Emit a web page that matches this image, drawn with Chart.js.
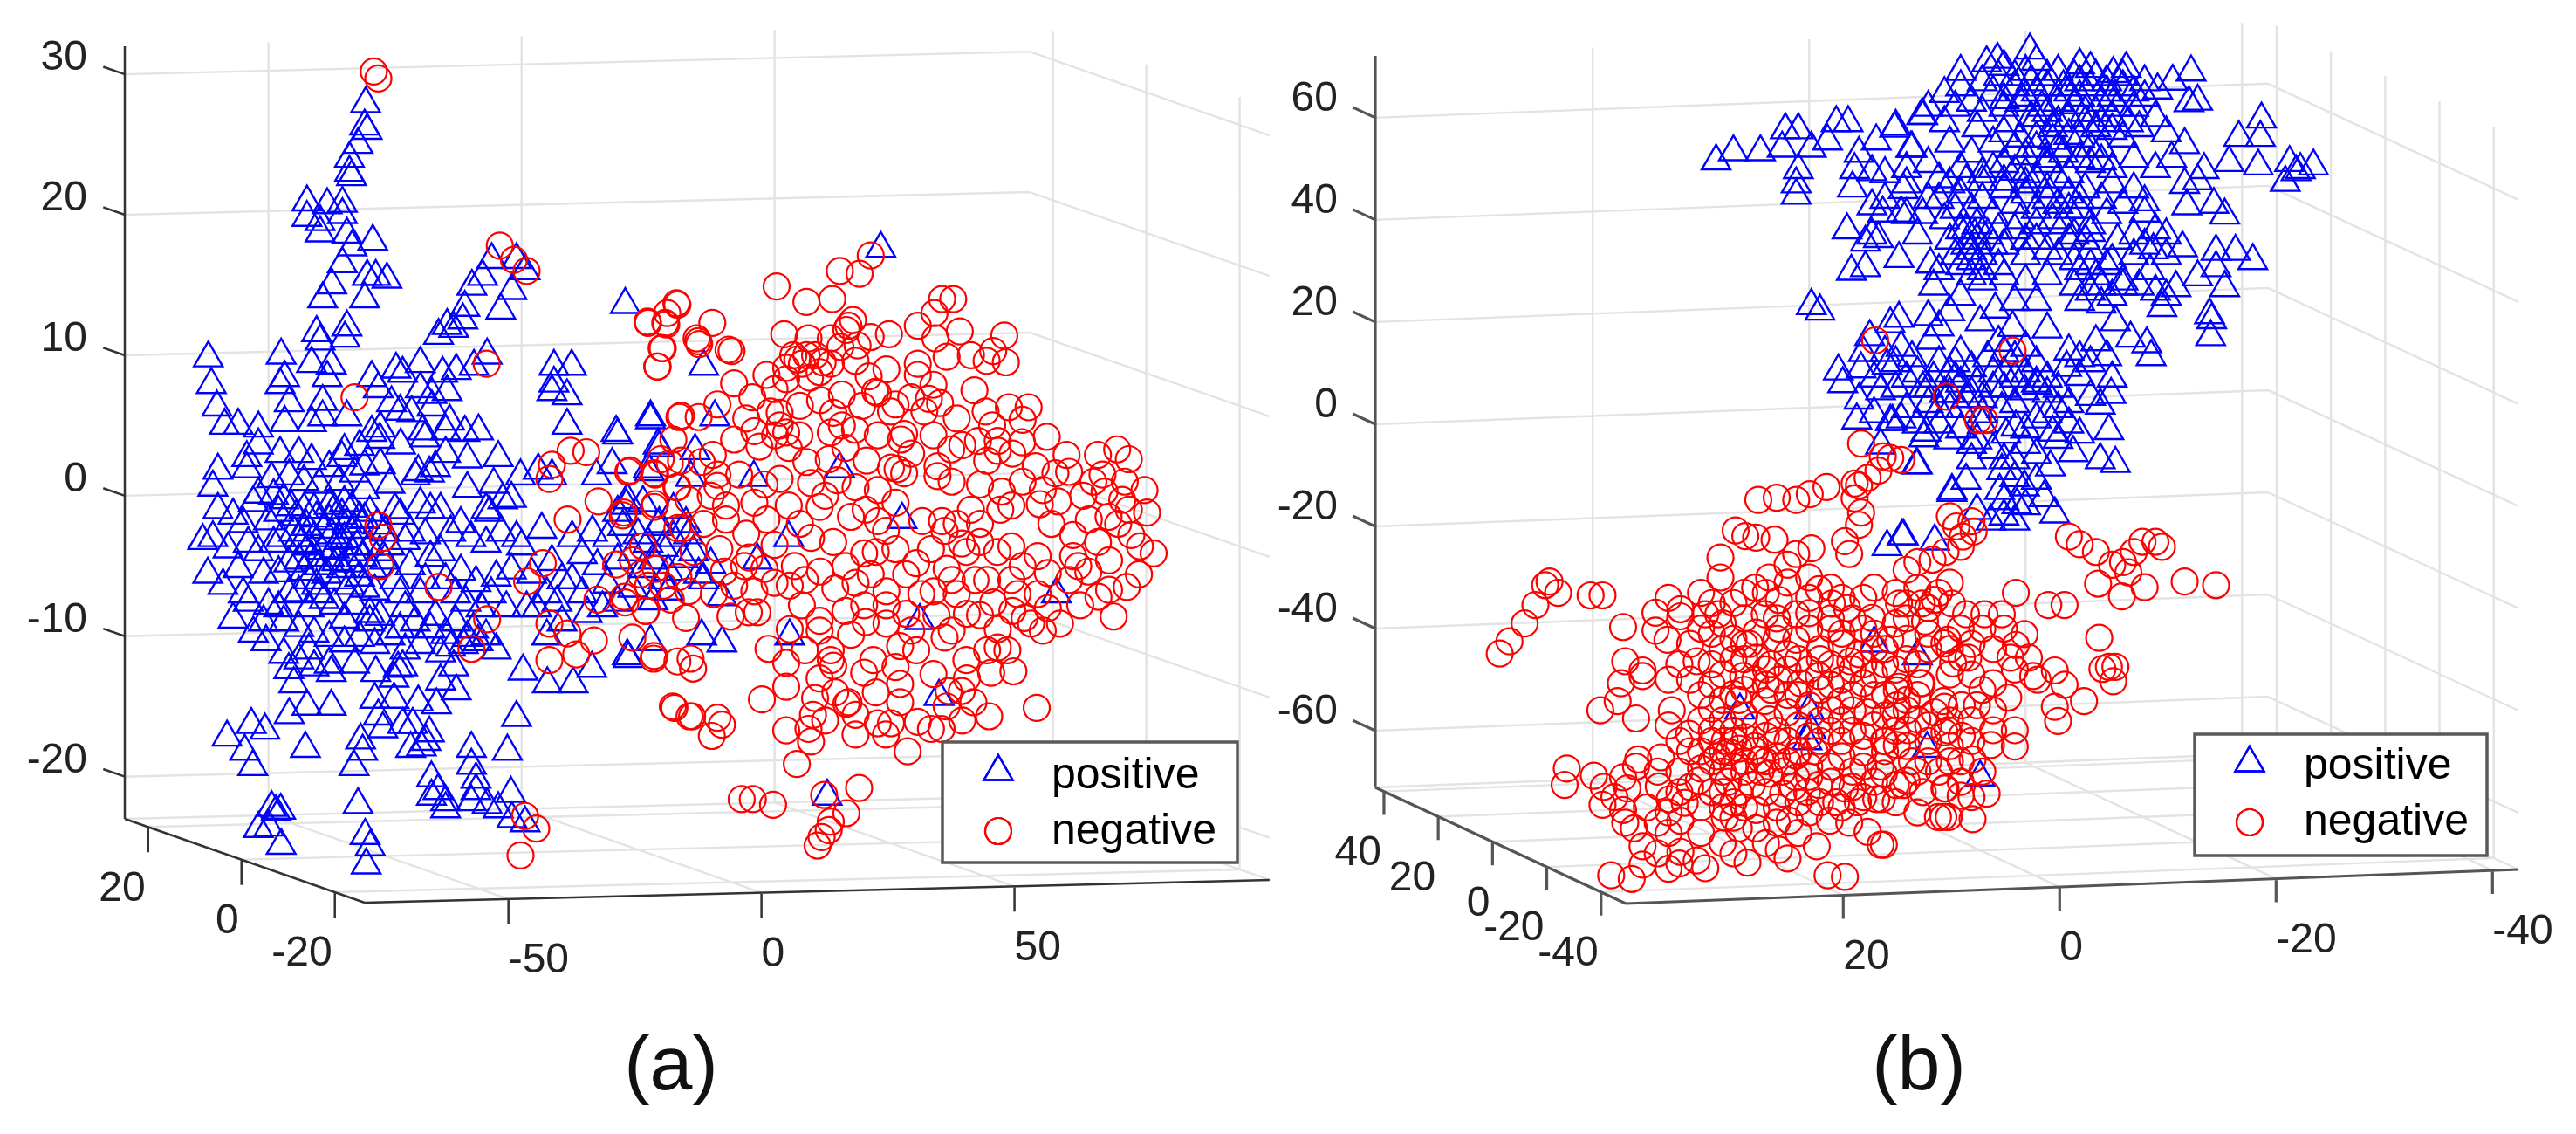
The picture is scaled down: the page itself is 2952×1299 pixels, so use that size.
<!DOCTYPE html>
<html>
<head>
<meta charset="utf-8">
<title>positive / negative scatter</title>
<script src="https://cdn.jsdelivr.net/npm/chart.js@4/dist/chart.umd.js"></script>
<style>
  html, body { margin: 0; background: #fff; }
  canvas { position: absolute; top: 0; filter: blur(0.6px); }
  #chartA { left: 0; }
  #chartB { left: 1420px; }
</style>
</head>
<body>
<canvas id="chartA" width="1476" height="1299"></canvas>
<canvas id="chartB" width="1532" height="1299"></canvas>
<script>
// points: [value on the back wall x axis, value on the z axis]
const positiveA = [
[-30.8,27.9],[-31,26.3],[-30.5,26],[-32.3,25],[-34,24],[-34,23],[-33.6,22.7],[-42.4,20.9],[-38.4,20.7],[-35.4,20.8],[-42.4,19.8],[-39.8,19.5],[-35.4,20],[-39.8,18.7],[-34.5,18.6],[-29.4,18.1],[-33.5,17.7],[-35.4,16.5],[-37.5,15],[-39.3,14],[-31,14],[-30.5,15.6],[-28.8,15.6],[-26.6,15.4],
[-40.5,11.6],[-34.5,12],[-39.8,11],[-34.9,11.2],[-5.9,16.8],[-1,16.8],[-7.7,15.6],[0.7,16],[-9.8,14.9],[-1.9,14.6],[-4.1,13.2],[-11.2,13.4],[-11.6,12.5],[-14.7,12.1],[-16.4,11.4],[-13.4,11.9],
[-61.9,9.8],[-61.3,7.9],[-60.2,6.3],[-56,5],[-58.7,5],[-52,4.8],[-52,3.6],[-54.3,2.7],[-60,1.8],[-61,0.6],[-54.3,1.9],[-47.7,3],[-47.5,10],[-46.8,8.4],[-47.7,7.9],[-41.5,9.4],[-37.6,9.3],[-38.4,8.4],[-6.8,10],[-9.4,9.2],[-12.9,8.9],[-15.6,8.7],[-20,9.4],[-24.8,9],[-23.5,8.7],[-29.6,8.4],[-28.3,7.6],[-20,7.6],[-17.7,7.2],[-14.7,7.4],[6.4,9.2],[9.9,9.2],[6.4,8],[6,7.4],[9,7.1],[20.5,13.6],[-39.3,6.7],[-45.9,6.6],[-25.7,6.6],[-21.7,5.9],[-17.7,6.3],
[-10.7,2.6],[-4.6,2.7],[-10.7,0.5],[-0.2,1.4],[3.3,1.8],[-5.5,0.8],[-3.7,-0.3],[-6.3,-1.2],[-2,-0.2],[9,5],[18.7,4.5],[25.5,5.6],[27,3.6],[14.8,1.4],[17.9,2.2],[6,1.4],[25.3,1.7],[20.9,-0.3],[-8.5,4.6],[-11.2,4.5],[-14.2,5.3],[-15,4.6],[-19.5,4.6],[-19.1,4.1],[-23.9,3.6],[-27.9,4.8],[-29.6,4.5],[-34.5,5.6],[-39.3,5.6],[-41.5,5.2],[-46.8,5.2],[-35,3.2],[-35.5,2.7],[-41.5,2.5],[-27.9,2.2],[-20.4,1.7],[-18.2,1.6],[-31,2.1],[-45.9,1.4],[-49.4,1.2],[-52,0.1],
[-63,-3.2],[-60,-1],[-58,-3.8],[-56,-5.2],[-62,-5.6],[-59,-6.4],[-55,-2],[-53,-0.5],[-52,-4],[-50,-1.8],[-49,-3.4],[-48,-5.5],[-47,-0.3],[-46,-7],[-45,-2.6],[-44,-4.6],[-43,-1],[-42,-6],[-41,-3],[-40,-5],[-40,0.8],[-39,-7.4],[-38,-1.8],[-37,-3.8],[-36,-6],[-36,1],[-35,-0.5],[-34,-4.8],[-33,-2.4],[-33,-7.8],[-32,-5.8],[-31,0.4],[-30,-3.6],[-30,-1.2],[-29,-6.8],[-28,-8.6],[-27,-2.6],[-27,-4.6],[-26,0.8],[-25,-6],[-24,-1.4],[-23,-3.2],[-23,-8],[-22,-5],[-21,1.4],[-20,-0.6],[-20,-7],[-19,-2.8],[-18,-4.4],[-17,2],[-17,-8.6],[-16,-1],[-15,-6],[-15,3],
[-44.5,-1.5],[-43.5,-3.4],[-42.5,-2.2],[-41.5,-4.4],[-40.5,-1.6],[-39.5,-3.9],[-38.5,-5.6],[-38,-0.7],[-37.5,-2.8],[-36.5,-4.7],[-35.5,-1.4],[-35,-3.1],[-34,-6.4],[-33.5,-0.9],[-32.5,-3.6],[-31.5,-4.4],[-31,-1.7],[-29.5,-5.2],[-28.5,-2.1],[-44,-6.9],[-42,-8],[-40,-7],[-37,-7.8],[-35,-8.8],[-47,-9],[-44,-9.4],[-41,-9.8],[-38,-10.1],[-35,-10.5],[-32,-10.1],[-29,-10.6],[-26,-10],[-23,-11],[-57,-8.8],[-54,-7.6],[-53,-9.8],[-50,-7.8],[-50.5,-10.4],[-47,-11.3],[-46,-12.4],[-44,-11.7],[-45,-13.4],[-41,-12.2],
[-61,-3],[-57,-1.4],[-54,-3.4],[-51,-5.6],[-48,-1.2],[-47.5,-3],[-46,-4.8],[-45.5,-0.8],[-44,-3],[-43,-5.4],[-42,-3.6],[-41,-1],[-40.5,-6.4],[-39,-2.4],[-38,-4.4],[-37,-1],[-36,-3.2],[-35.5,-5.2],[-34.5,-2],[-33.5,-4],[-32,-1.6],[-31,-6.6],[-30,-8.4],[-28,-4],[-26,-3.6],[-25,-1],[-24,-7],[-22,-2.6],[-21,-9],[-19,-6],[-18,-1],[-16,-4],[-14,-2.6],[-13,-7],[-12,-2],[-33,1.6],[-38,2],[-43,1],[-49,0],[-55,-7],[-51,-9],[-48,-8],[-42,-11],[-38,-12],[-33,-12],[-30,-9],[-24,-9.5],[-13,-9],[-28,4],[-24,6],[-44,3],[-32,3.5],[-8,-8],[-6,-7],[-3,-8],[-1,-3],[1,-8],[8,-6],[-7,-1],[5,-7],[12,-7],[16,-8],[19,-1.2],[24,-0.5],[30,-1],[28,-6],[26,-7.5],
[-58.2,-17.2],[-53.4,-16.3],[-50.7,-16.7],[-54.7,-18.2],[-53.1,-19.3],[-42.7,-18],[-45.9,-15.6],[-42.4,-15],[-37.6,-15],[-37.6,-12.6],[-49.4,-22.2],[-47.6,-22.4],[-48.5,-22.5],[-52,-23.7],[-49.9,-23.6],[-47.5,-24.9],[-32.3,-22],[-30.9,-24.2],[-29.9,-25],[-30.7,-26.3],
[-28.8,-12.6],[-24.4,-12.3],[-23.5,-12.2],[-25.2,-13],[-29,-14.5],[-25.2,-14.5],[-20.4,-14.7],[-16.8,-14.9],[-13.4,-12.2],[-16,-13.2],[-12.9,-13.9],[-28.3,-15.7],[-23.5,-16.3],[-27.4,-16.6],[-31.8,-17.4],[-31.4,-18.2],[-33.1,-19.3],[-21.5,-16.3],[-18.2,-16.9],[-21.9,-18],[-18.9,-17.5],[-19.8,-17.9],[-9.9,-18],[-2.8,-18.2],[-1,-15.8],[-9.9,-19.2],[-9,-20.2],[-17.8,-20.1],[-16.5,-21],[-15,-21.8],[-17.8,-21.4],[-15,-22.3],[-9,-21],[-9.9,-21.8],[-6.8,-22],[-2.1,-21.2],[-4.6,-22.3],[-1.9,-23],[0.7,-23.3],[0.3,-12.5],[5.1,-13.4],[10.2,-13.4],[13.9,-12.3],[20.9,-11.4],
[-10.7,-10.1],[-9.5,-9.5],[-8.6,-10.4],[-7,-10],[-11.5,-10.6],[-5,-11],[-18,-9.5],[-15,-9.9],[-20,-10.6],[-14,-10.8],[-16,-11.2],[-2,-5.3],[0,-3.6],[2,-5.6],[4,-2.4],[6,-4.7],[7,-7.6],[-7,-3.4],[-5,-5.8],[-4,-2.6],[-9,-6.2],[-10,-3],[-12,-5.4],[-11,-7.6],[3,-8],[5,-10],[8,-9],[10,-3],[10,-6],[12,-4.2],[14,-2.6],[15,-5],[17,-3],[19,-4.6],[17,-6.3],[20,-2.2],[22,-4],[23,-2.8],[24,-5.2],[25,-3.4],[26,-4.6],[27,-2.2],[28,-3.7],[29,-5.4],[30,-3],[32,-4.5],[33,-2.8],[34,-4],[35,-5.6],[22,-6.6],[13,-8.4],
[71,17.6],[36,9.2],[25.5,5.4],[38.2,5.6],[19,4.3],[27.2,3.4],[34.3,3.2],[25,1.9],[33.4,1.3],[45.9,1.3],[62.9,1.9],[75.2,-1.7],[52.8,-3],[46.6,-4.6],[20.7,-0.7],[32.5,-2],[27.2,-2],[37.4,-4.9],[105.7,-7],[78.7,-8.9],[53,-10],[21.1,-11.6],[25.5,-10.4],[35.6,-10],[39.6,-10.5],[82.5,-14.3],[60.4,-21.4],[39.6,-7.2],[29,-6.8],[36,-6],[19,-7.6]
];
const negativeA = [
[-4.3,17.8],[-1.5,16.8],[1,16],[-33,7],[-6.9,9.4],[-29.2,30.2],[-28.3,29.7],[24.9,12.4],[28.4,12.3],[30.6,13.7],[28.8,13],[27.7,10.5],[26.9,9.2],[31.5,5.7],[34.6,11.2],[6,2.2],[9.7,3.2],[12.8,3.1],[5.5,1.2],[21.4,1.8],[26.2,1.6],[27.5,2.6],[30.6,0.6],[15.2,-0.4],[20,-1.4],[9.1,-1.7],[26.2,-0.8],[31.9,-2.3],[29.3,2.3],[31.5,2.5],[-28.3,-2.1],[-27.4,-3],[-27.9,-5],[4.2,-4.8],[18.7,-4.9],
[-16.4,-6.5],[1.1,-6.1],[-6.8,-8.8],[-9.9,-10.9],[5.5,-9.1],[9.1,-9.8],[14.3,-10.3],[10.8,-11.3],[5.5,-11.7],[15,-7.4],[20.5,-7.6],[24.5,-8.2],[21.9,-10.1],[26.2,-11.4],[30.2,-15.1],[33.2,-15.7],[0.7,-22.8],[2.9,-23.7],[-0.2,-25.6],
[69,17.1],[62.9,16],[66.8,15.8],[50.4,14.9],[56.3,13.8],[61.4,14],[83.1,14],[85.3,14],[81.6,13],[78.3,12.1],[64.6,12.1],[65.5,12.5],[64.2,11.8],[51.9,11.5],[56.7,11.2],[61.1,11.2],[72.6,11.5],[69,11.3],[81.8,11.2],[86.6,11.7],[95.4,11.4],[30.8,13.6],[25,12.3],[28.6,12.2],[37.7,12.3],[34.9,11],[27.9,10.5],[26.8,9.2],[40.9,10.4],[41.5,10.3],[35.1,10.8],
[66.4,10.7],[56.3,10],[54.5,9.7],[58,10],[52.3,9.1],[55.4,9.4],[61.1,9.4],[58.9,8.8],[48.4,8.6],[52.3,8.3],[72.1,9],[68.6,8.5],[78.3,9.4],[78.3,8.6],[84,9.9],[88.8,10],[91.9,9.6],[95.7,9.5],[93.2,10.3],[81.4,7.9],[89.5,7.5],[69.9,7.4],[63.3,7.2],[45.6,7],[80.5,6.9],[82.7,6.6],[38.7,6.5],[31.2,5.6],[67.3,6.4],[73.9,6.5],[70.4,7.3],[61.6,5.9],[51,5.9],[44.4,5.5],[49.2,6],[96.3,6.3],[100.2,6.3],[91.7,6],[79.6,6],[99,5.4],[51,5],[52.3,4.5],[50.1,4.3],[54.9,4.3],[63.3,5],[61.1,4.5],[65.9,4.7],[70.4,4.3],[75.6,4.4],[81.4,4.3],[90.2,3.9],[94.1,3.9],[98.9,3.8],[103.8,4.2],[52.8,3.4],[87.1,3.6],[94.1,3.2],[84.9,3.3],[107.7,2.9],[113.9,2.9],[117.7,3.3],[120,2.6],[101.6,2.1],[105.5,1.6],[108.2,1.7],[114.8,1.5],[119.2,1],[123.1,0.4],[56.3,2.4],[60.7,2.6],[68.2,2.5],[74.3,1.9],[73,2],[75.6,1.6],[82.2,2.1],[82.2,1.4],[35.6,2.4],[37.8,2.9],[38.7,1.5],[38.7,0.7],[30.8,0.6],[26.4,1.5],[21.1,1.7],[37.4,0],[40.4,-0.7],[48,0.8],[51,1.2],[57.2,0.9],[62.4,1.1],[52.8,-0.7],[58.9,-0.8],[65.1,-1.5],[70.4,0.4],[73.9,-0.5],[90.6,0.8],[94.9,0.3],[94.6,-1],[96.8,-0.7],[88.8,-1],[102.4,-0.6],[115.2,0.3],[118.7,-0.3],[123.6,-1.2],[112.1,-1.7],[117.9,-2],[120.5,-2.8],[124.9,-4.1],[109,-2.8],[113.9,-3.3],[104.7,-2],[90.6,-2],[83.6,-2.5],[83.1,-1.8],[79.2,-1.8],[70.4,-1.8],[40.4,-1.7],[48.4,-1.7],[44.4,-2.7],[57.2,-3],[61.6,-3.3],[39.1,-3.8],[26.4,-0.6],[20.2,-1.2],[30.8,-2.3],[96.8,-3.6],[102,-4.3],[109,-4.3],[116.1,-4.6],[122.2,-3.6],[73.9,-3.8],[67.7,-4.1],[80.9,-3.8],[87.9,-4],[90.6,-3.3],
[119.6,-6.5],[116.1,-6.7],[117,-8.6],[106.4,-9.1],[110.4,-7.8],[100.7,-9.1],[99.4,-8.7],[97.2,-12.5],[92.8,-12.6],[87.9,-11.7],[94.1,-10.8],[94.1,-9.5],[90.6,-8.5],[93.2,-7.6],[89.7,-6],[96.8,-6],[102,-7],[108.2,-6],[83.6,-10.1],[81.4,-6.8],[81.4,-12.7],[74.8,-10.7],[73.9,-12.2],[74.8,-13.4],[69.5,-11.7],[72.1,-9.1],[72.1,-6.8],[67.7,-7.8],[61.1,-11.7],[61.6,-12.1],[61.1,-11],[58.9,-9.6],[65.1,-9.9],[67.7,-12.6],[55.4,-7.8],[46.6,-8.3],[41.3,-8.6],[32.5,-8.7],[24.6,-8.2],[48.8,-10.9],[52.3,-11.9],[52.3,-13.6],[58.9,-13],[47.5,-14.5],[29.9,-15],[33.7,-15.7],[38.7,-15.8],[39.6,-16.3],[37.6,-17.1],[52.3,-16.7],[57.2,-17.5],[56.7,-16.6],[57.6,-15.6],[58,-14.4],[64.6,-14.7],[66,-15.6],[70.4,-16.2],[73,-16.2],[74.8,-14.7],[78.3,-16.1],[80.9,-16.6],[83,-16.6],[87.1,-16],[89.3,-14.7],[84.4,-13.9],[87,-13.9],[92.4,-15.7],[101.8,-15.1],[76.3,-18.2],[54.4,-19.1],[43.5,-21.6],[45.7,-21.6],[49.7,-22],[59.8,-21.3],[66.7,-20.8],[64.2,-22.6],[61.1,-23.2],[60.7,-23.8],[59.3,-24.3],[58.5,-24.9],[26.1,-11.6],[33.4,-11.6],[33.9,-12.3],[30.8,-11.8],[20.3,-7.2],[44.9,-8.3],[58.9,-8.9],[72.1,-7.8],[64.2,-14.8],
[22,-4.6],[23.5,-5.6],[25,-6.4],[26.5,-5.2],[28,-6.4],[29.5,-7.4],[24,-3.6],[31,-5.8],[33,-6.8],[38,-7],[40,-5.4],[42,-6.4],[44,-5],[46,-6.8],[48,-5.2],[50,-6.2],[54,-5],[56,-6],[59,-5.4],[62,-6.6],[64,-5],[66,-6.2],[69,-5.6],[76,-5.6],[78,-4.8],[84,-5.2],[86,-7],[88,-8.4],[97,-8.2],[103,-9.6],[112,-5.4],[114,-7.2],[79,-7],[76,-8.4],[64,-8.2],[53,-6.4],[85,-9.6],[78,-11],[104,-8],[122,-5.6],
[57,8.4],[59.5,9.5],[53.7,10],[50,7.6],[63,10.6],[66,9.6],[75,4],[77,3],[85,1],[92,2.5],[99,1],[103,0.4],[106,-0.4],[111,0],[113,1],[116,-1.5],[120,-1],[110,-5],[104,-5.5],[99,-5],[94,-4],[86,-2],[87,-3.4],[85,-6],[82,-8.5],[77,-9.6],[70,-4],[72,-2.5],[68,-1],[66,0.6],[64,3.4],[60,0],[55,-2],[50,-3.5],[46,-0.5],[43,1.5],[42,4],[47,3.5],[45,-4.4],[36,-2],[34,-4],[33,-0.3],[30,4],[35,5.6],[42,8],[46,4.6],[55,6.4],[59,6.8],[73,6],[77,7],[86,5.5],[93,5],[97,3],[92,-6],[98,-7],[92,-11],[96,-11],[88,-13],[84,-15],[70,-14],[68,-9],[56,-11],[53,-9.5],[62,-14],[66,-17],[60,-16],[72,-17]
];
const positiveB = [
[8.6,51.5],[7,53.3],[4.5,53.3],[2.2,57.6],[1,57.6],[2.5,54],[-2.5,59],[-3.6,59],[-1.7,55.4],[-7.9,57.9],[-6.2,55.4],[-0.2,54],[1,49.8],[1.2,47],[1.2,44.8],[-4.2,49.8],[-5.8,49.4],[-7,49],[-4,46.2],[-8.7,45.9],[-10.5,60.4],[-9.5,54],[-4.6,53],[-3.5,38],[-5.8,37],[-5.2,35.6],[-6.4,36.3],[-8.3,32.4],[-3.9,29.9],[-5.2,30.6],[-5.8,42.7],[-6.8,41.3],[-8.5,41.3],[-11.2,31.3],[-0.2,23.2],[-1,22.1],[-5.6,17.1],[-7.5,19.6],[-8.3,20.7],[-11.2,16.4],[-2.7,10.4],[-4.8,10.8],[-7.2,11.5],[-3.1,7.9],[-4.6,4.7],[-4.4,0.8],[-7.7,0.5],[-6.6,6.5],[-10.8,-1.6],[-6.6,-4.1],[-9.9,-8],[-13.2,-13.4],[-8.7,-21.9],[-7.2,-24],[-11.6,-22.9],
[-20.4,73.2],[-16.4,70.7],[-17.4,71.4],[-25,70.3],[-26,69.6],[-28.1,68.6],[-29.3,69.6],[-35.3,68.9],[-33.6,67.1],[-32.2,65.4],[-35.9,63.2],[-35.1,62.9],[-12.5,64.7],[-10.4,60.4],[-8,58.3],[-9.4,54],[-34.7,54.7],[-41.8,59.7],[-39.7,56.1],[-41.7,56.1],[-38.8,51.2],[-41.5,50.5],[-44.4,51.2],[-46.6,50.5],[-45.4,49.8],[-44,47.3],[-45,49.4],[-36.5,49.8],[-34.7,46.9],[-35.9,47.6],[-34.9,42.7],[-37.4,43],[-38.4,40.9],[-31,41.3],[-34.5,34.5],[-37.6,33.8],[-39.4,33.8],[-41,32],[-37.6,30.6],[-35.9,28.8],[-33.9,26.7],[-38.4,26.7],[-37,21.4],[-37.2,20.4],[-37.1,17.1],[-32.6,22.8],[-31.8,34.1],[-28.3,20],[-26.5,16.1],[-27.5,13.2],[-29.7,16.8],[-31.2,15.7],[-31.6,13.2],[-22,18.6],[-18.8,18.9],[-15.8,20],[-17.2,22.5],[-24,14.3],[-23.8,11.1],[-25,9.3],[-21.1,7.6],[-19.9,6.5],[-26,5.4],[-27.9,5.8],[-26.9,3.7],[-22.5,-1.6],[-27.7,-1.3],[-19.1,-0.6],[-17.8,3],[-7.5,0.5],[-10.6,-2.7],[-12.9,-3.1],[-15.5,-3.1],[-18.2,-2],[-19,-7],[-17.8,-9.1],[-22.3,-8.4],[-24.4,-5.6],[-26.9,-7],[-28.3,-7.7],[-10,-8],[-13.2,-13],[-17.6,-13],[-19.9,-12.3],[-21.7,-14.4],[-19.2,-15.8],[-22.7,-17.6],[-19,-19],[-15.5,-16.9],[-16.8,-19],[-8.6,-21.9],
[-11,62],[-12.5,59],[-13.5,62],[-14,66],[-15,63],[-15.5,58],[-16,61],[-17,65],[-17.5,68],[-18,62],[-18.5,59],[-19,66],[-19.5,63],[-20,69],[-20.5,60],[-21,65],[-21.5,62],[-22,68],[-22.5,58],[-23,63],[-23.5,66],[-24,60],[-24.5,68],[-25,64],[-25.5,61],[-26,66],[-26.5,58],[-27,63],[-27.5,65],[-28,60],[-28.5,62],[-29,66],[-30,62],[-30.5,58],[-31,64],[-32,60],[-33,57],[-29,56],[-27,54],[-25,56],[-23,54],[-21,56],[-19,54],[-17,55],[-15,53],[-13,55],[-11,51],[-9,50],[-12,48],[-14,50],[-16,49],[-18,51],[-20,49],[-22,51],[-24,49],[-26,51],[-28,50],[-30,52],[-32,50],[-33.5,52],[-12,44],[-14,45],[-15,42],[-15.5,39],[-16,44],[-17,41],[-17.5,38],[-18,46],[-19,43],[-19.5,40],[-20,45],[-21,42],[-22,46],[-23,43],[-23.5,39],[-24,45],[-25,42],[-25.5,46],[-26,39],[-27,44],[-27.5,41],[-28,47],[-29,43],[-30,46],[-31,43.5],[-12.5,40],[-13,36],[-13.5,33],[-14,38],[-14.5,35],[-15,32],[-15.5,36],[-16,33],[-10,37],[-10.5,41],[-18,35],[-20,33],[-21,36],[-23,33],[-24,36],[-26,34],[-27.5,31],[-28.5,36],[-30,33],[-31.5,30],[-29,28],[-26.5,29],[-26,26],[-27,23.5],[-28,25],[-29,27],[-25,24],[-24.5,27],[-30.5,27],[-32,26],[-33,25],[-22,29],[-20,28],[-18,29],[-16,30],[-12,30],[-19,24],[-21,24],[-14,25],[-13,22],[-11.5,27],[-11,21],[-12,19],
[-14,69],[-16,67],[-18,70],[-19,68],[-20.5,67],[-21,71],[-22,66],[-23,69],[-24,65],[-25,67],[-26.5,68],[-27.5,67],[-28,64],[-29,68],[-30,65],[-31,67],[-18,63.5],[-20,64],[-21,60],[-22,61],[-23,59],[-24.5,62.5],[-25.5,59],[-26.5,61],[-27,59],[-28,57.5],[-29.5,59],[-18,57],[-19.5,56],[-20,52.5],[-21,54],[-22,52],[-22.5,55.5],[-23.5,53],[-24,56.5],[-25,52],[-26,54],[-27,51.5],[-16,47.5],[-17,50],[-18,47.5],[-19,49.5],[-20,47],[-21,48],[-22,44],[-23,48],[-24,42],[-25,44],[-13,47],[-14.5,47.5],[-13.5,42],[-14.5,38],[-15.3,37],[-16.5,37],[-17,35],[-15,34],[-14,31],[-15,29],[-16,28],[-17.5,31],[-19,38],[-20,36],[-21,39],[-22,34],[-22.5,40],[-24.5,37],[-25.5,36],[-26,37.5],[-24.5,32],[-25,30],[-26,31],[-27,27],[-28,32],[-30,37],[-31,35],[-32,38],[-33,33],[-33,37],[-11,44],[-9,41],[-9,47],[-7,44],
[-7,14],[-8.5,15],[-9.5,13],[-10,10],[-10.5,7],[-11,4],[-11.5,9],[-12,12],[-12.5,6],[-13,3],[-13.5,9],[-14,14],[-14.5,5],[-15,11],[-15.5,8],[-16,2],[-16.5,13],[-17,7],[-17.5,16],[-18,10],[-19,13],[-20,10],[-21,12],[-22,6],[-23,3],[-24,0],[-21,1],[-14,-1],[-12,0],[-9,3],[-8,7],[-6,2],[-23,-3],[-25,-2],[-20,-4],[-17,-5],[-15,-7],[-21,-11],[-19,-10.5],[-18,-15],[-14.5,-11],
[-13,10],[-13.5,12],[-14,8],[-15,6],[-16,5],[-17,10],[-18,14],[-18,7],[-19,9],[-20,15],[-21,8],[-22,9],[-23,7],[-25,13],[-26,12],[-28,9],[-10,0],[-12,3],[-14,3],[-16,0],[-13,6],[-11,7],[-9,9],[-8.5,1],[-6,9],[-5,14],[-8,12],[-19,4],[-20,-1],[-22,2],[-24,4],[-21,-6],[-18,-7],[-15,-4],[-20,-16],[-18,-18],
[6.4,-56],[0,-56],[-0.2,-59.9],[0.2,-62],[-10.9,-63.5],[-6,-42.9],[-10,-45.4],[-15.8,-69.1]
];
const negativeB = [
[-6.1,16.4],[-12.7,5.4],[-18.8,14.4],[-15.6,0.8],[-16.2,0.8],[-4.8,-3.8],[-6.8,-6.3],[-8.5,-7],[-7.5,-6.6],[-6.4,-9.1],[-5.4,-10.5],[-4.6,-12],[-4.2,-14.5],[-4.8,-17.3],[-4.6,-19.7],[-3.3,-22.9],[4.7,-14.8],[3,-14.4],[1.2,-14.8],[-0.05,-13.7],[-1.6,-12.3],[-4.2,-11.6],[6.8,-20.8],[5.9,-21.9],[4.9,-22.2],[3.2,-22.6],[8.2,-26.1],[-0.2,-24.3],[1.2,-25.4],[-3.7,-25.4],[2,-27.5],
[-13,-18],[-13.6,-20],[-14.2,-22],[-14,-24],[-12.6,-25],[-11.4,-26.5],[-15.2,-21],[-15,-19],[-10,-27],[-9,-28.5],[-24,-22],[-25,-23.5],[-26.5,-25],[-28,-27.5],[-30,-25],[-30.8,-23],[-32,-23],[-32.6,-24],[-29,-27],[-29.5,-29],
[28.6,-44.9],[27.7,-42.5],[26.3,-39],[25.3,-35.4],[24.4,-31.5],[23.2,-33],[24,-30.8],[20.2,-33.5],[19.1,-33.5],[17.2,-39.7],[14.2,-36.9],[14.2,-40.4],[11.9,-36.2],[11.9,-37.6],[9.6,-37.2],[8.4,-37.2],[13.1,-42.2],[10.4,-46.4],[17,-46.4],[15.4,-48.2],[15.4,-49.3],[19.3,-56],[17.7,-54.2],[16,-57.6],[12.7,-56],[9,-55.7],[17.4,-50.7],[11.1,-60.6],[22.4,-67.4],[22.6,-70.6],[19.9,-68.8],[17.2,-69.1],[19.1,-74.5],[15.8,-65.6],[13.7,-65.2],[10,-67.4],[10.2,-69.8],[16.8,-71.3],[17.2,-75.5],[16.2,-79.1],[12.9,-73.4],[13.9,-70.9],[11.5,-74.1],[11.9,-77.6],[15.4,-82.6],[18.3,-88.3],[16.4,-89],[15.4,-86.2],[11.9,-83.7],[9.6,-86.9],[10.4,-85.4],[7.8,-77],[5.7,-85.8],[6.5,-79.1],[4.9,-75.5],[4.9,-79.1],[2.8,-83.3],[-0.7,-82.6],[-1.7,-88.3],[-3.3,-88.6],[1.8,-77.6],[-1.9,-77.6],[-3.7,-78],[-5.4,-79.8],[-6.6,-82.3],[7.4,-64.2],[6.5,-63.5],[7.8,-62],[5.9,-61.3],[4.5,-65.6],[5.3,-70.6],[3.7,-68.4],[3.7,-57.8],[1.2,-69.1],[0.2,-72],[-0.9,-70.6],[1.2,-64.9],[2.4,-72.3],[-3.3,-71.3],[-6.2,-73.4],[-8.7,-70.6],[-6.9,-68.4],[-5,-64.2],[-6.6,-67],[-2.9,-54.2],[-8.1,-55],[-5.4,-56.4],
[4.1,-37.2],[2.8,-40],[1.2,-37.2],[-2.1,-35.1],[-0.9,-32.3],[2.8,-34.4],[3.7,-30],[8.2,-30],[1.2,-42.2],[4.9,-40.8],[2,-45],[-0.9,-49.3],[4.9,-45.7],[6.1,-49.3],[2.8,-50],[0.8,-50.7],[7,-52.8],[4.1,-54.2],[2,-56.4],[-5.8,-37.9],[-8.3,-35.1],[-11.6,-34.4],[-7.5,-42.2],[-4.6,-45],[-3.8,-46.4],[-10.7,-38.6],[-12.8,-42.2],[-13.2,-35.1],[-5,-50.7],[-8.3,-51.4],[-10.3,-50.7],[-12.4,-54.2],[-11.6,-56.4],[-12.8,-59.9],[-9.1,-59.9],[-12.6,-71.3],[-12.4,-76.9],[-14,-72.7],
[-37.6,-31.5],[-34.7,-30.8],[-31,-31.9],[-28.9,-33.7],[-26.7,-31.2],[-22.1,-35.4],[-23.6,-35.4],[-19.1,-33],[-17.8,-37.2],[-16.2,-37.2],[-14.5,-37.2],[-11.6,-34.4],[-10.4,-35.1],[-9,-35.1],[-26.8,-41.8],[-27.7,-47.5],[-27.1,-47.9],[-28.3,-47.5],[-28.1,-50.3],[-20.7,-49.3],[-21.1,-50],[-19.1,-43.2],[-19.9,-41.1],[-18.6,-45.7],[-20.3,-45.7],[-22.7,-48.2],[-23.6,-51],[-25.4,-54.2],[-22.7,-55.3],[-23,-58.1],[-18.4,-53.5],[-17,-50.7],[-14.1,-45.7],[-14.7,-45.7],[-12.5,-42.9],[-13.3,-46.8],[-15.5,-55],[-14.1,-55],[-12.5,-55.3],[-10.4,-50.7],[-8.1,-52.1],[-8,-57.1],[-10,-57.8],[-17,-59.9],[-19,-59.9],[-19,-63.1],[-16.8,-62.8],[-15.1,-65.6],[-14.1,-61],[-12.5,-60.3],[-8.1,-62.8],[-6.9,-62],[-9,-69.8],[-8,-70.6],[-6.7,-73.4],[-12.5,-71.3],[-15,-73],[-16.4,-72.3],[-11.9,-76.9],[-12.9,-76.9],[-15.1,-77.3],[-6.9,-82.3],
[9,-41],[8,-44],[7,-42],[6,-38],[5.5,-43],[3.5,-47],[0,-40],[-1,-44],[-2,-38],[-3,-41],[-3.5,-36],[-5,-40],[-6,-44],[-7,-47],[-8,-39],[-9,-42],[-10,-47],[-11,-41],[6.5,-54],[5,-50],[3.5,-52],[1,-53],[-1,-52],[-2,-47],[-3,-50],[-4,-53],[-6,-49],[-7,-53],[-9,-54],
[8,-58],[7,-60],[6,-57],[5,-59],[4,-61],[3,-60],[2,-62],[1,-59],[0,-61],[-1,-58],[-2,-60],[-3,-62],[-3,-58],[-4,-60],[-5,-61],[-6,-59],[-7,-64],[-8,-60],[9,-62],[8.5,-65],[8,-68],[7,-67],[6.5,-72],[6,-66],[5,-63],[4.5,-68],[4,-72],[3,-65],[2.5,-68],[1.5,-71],[1,-74],[0,-67],[-0.5,-64],[-1,-74],[-2,-67],[-2.5,-74],[-4,-68],[-4.5,-74],[10,-64],[11,-64],[12,-68],[3,-75],[9,-72],[8,-75],[7,-74],[7.5,-70],[-9.5,-66],[-11,-66],[-10.5,-72],[-13,-66],[-14,-66],
[5,-32],[4,-33],[2,-31],[0,-30],[-2,-32],[-3,-34],[-5,-34],[-6,-32],[-8,-33],[-10,-32],[-12,-33],[-13,-31],[9,-35],[7,-35],[10,-33],[13,-34],[6,-33],[0,-34],[3,-38],[0,-37],[-2,-40],[-4,-38],[-6,-41],[-9,-38],[-11,-36],[-14,-40],[-16,-40],[-18,-40],[8,-39],[10,-40],[11,-43],[7,-46],[6,-43],[3,-42],[1,-46],[-1,-46],[-3,-43],[-5,-47],[-7,-44],[-9,-46],[-11,-44],[-13,-44],[-15,-43],[-17,-44],[12,-47],[13,-50],[11,-50],[9,-47],[8,-49],[9,-51],[6,-46],[4,-48],[2,-48],[0,-48],[-2,-51],[-4,-48],[-6,-53],[-8,-48],[-10,-53],[-13,-49],[-15,-49],[-16,-52],[-19,-48],[10,-53],[8,-54],[6,-52],[4,-51],[2,-53],[0,-55],[-2,-56],[-4,-56],[-7,-57],[-9,-56],[-11,-59],[-13,-58],[-15,-58],[-17,-56],[13,-59],[12,-62],[10,-58],[9,-60],[7,-62],[5,-64],[3,-62],[1,-64],[-1,-62],[-3,-65],[-5,-67],[-7,-62],[-9,-63],[-11,-62],[-13,-63],[-15,-62],[9,-66],[8,-64],[6,-68],[4,-66],[2,-66],[0,-69],[-2,-70],[-4,-71],[-6,-70],[-10,-68],[-12,-68],[-14,-70],[-16,-68],[14,-68],[12,-72],[11,-71],[10,-75],[8,-72],[7,-77],[6,-75],[3,-78],[1,-80],[0,-76],[-3,-75],[-5,-73],[-8,-74],[-10,-76],[13,-76],[14,-78],[13,-80],[10,-80],[8,-82],[7,-84],[4,-82],[2,-85],[14,-84],[13,-87],[12,-86],[17,-78],[18,-73],[15,-75],[19,-71],[16,-67]
];

const xTicksA = [-50, 0, 50];
const yTicksA = [20, 0, -20];
const zTicksA = [30, 20, 10, 0, -10, -20];
const xTicksB = [20, 0, -20, -40];
const yTicksB = [40, 20, 0, -20, -40];
const zTicksB = [60, 40, 20, 0, -20, -40, -60];
const seriesNames = ['positive', 'negative'];

const FONT = '"Liberation Sans", Arial, sans-serif';
const BLUE = '#0000ff';
const RED = '#ff0000';

// box and projection of each panel
const panelA = {
  canvas: 'chartA', caption: '(a)', captionX: 769,
  xTicks: xTicksA, yTicks: yTicksA, zTicks: zTicksA, tickDrop: 1.8,
  xStart: -78.4, xEnd: 100.4, yBack: 25, yFront: -26.4, zLow: -23, zHigh: 32,
  shearU: 0.9224, shearV: -0.1161, tiltV: 0.00904,
  scaleX: { min: -78.4, max: 148.7, reverse: false },
  scaleY: { min: -33.07, max: 35.29 },
  axisLeft: 143, paddingRight: 16, labelPad: 43, labelLift: -18,
  axisColor: '#333', axisWidth: 2.5,
  legend: { left: 1080, top: 850, right: 1418, bottom: 988, markX: 1144, textX: 1205, rows: [884, 952], textRows: [889, 953] }
};
const panelB = {
  canvas: 'chartB', caption: '(b)', captionX: 779,
  xTicks: xTicksB, yTicks: yTicksB, zTicks: zTicksB, tickDrop: 4.6,
  xStart: 40.1, xEnd: -42.4, yBack: 43.2, yFront: -49.1, zLow: -71.1, zHigh: 72.1,
  shearU: -0.2508, shearV: -0.2462, tiltV: -0.0808,
  scaleX: { min: -70.06, max: 40.1, reverse: true },
  scaleY: { min: -104.93, max: 83.04 },
  axisLeft: 156, paddingRight: 10, labelPad: 43, labelLift: -21,
  axisColor: '#555', axisWidth: 3.2,
  legend: { left: 1095, top: 841, right: 1430, bottom: 980, markX: 1158, textX: 1220, rows: [874, 942], textRows: [878, 942] }
};

// 3d box value -> value on the chart's two flat scales
function project(p, x, y, z) {
  const back = p.yBack - y;
  return { x: x + back * p.shearU, y: z + back * p.shearV + (x - p.xStart) * p.tiltV };
}

function frameLines(p) {
  const grid = [], axes = [];
  const seg = (list, a, b) => {
    list.push(project(p, a[0], a[1], a[2]), project(p, b[0], b[1], b[2]), { x: NaN, y: NaN });
  };
  const zBelow = p.zLow - p.tickDrop;
  const tickOut = (p.yBack - p.yFront) * 0.09;

  for (const z of p.zTicks) {
    seg(grid, [p.xStart, p.yBack, z], [p.xEnd, p.yBack, z]);
    seg(grid, [p.xEnd, p.yBack, z], [p.xEnd, p.yFront, z]);
    seg(axes, [p.xStart, p.yBack + tickOut, z], [p.xStart, p.yBack, z]);
  }
  for (const x of p.xTicks) {
    seg(grid, [x, p.yBack, p.zLow], [x, p.yBack, p.zHigh]);
    seg(grid, [x, p.yBack, p.zLow], [x, p.yFront, p.zLow]);
    seg(axes, [x, p.yFront, p.zLow], [x, p.yFront, zBelow]);
  }
  for (const y of p.yTicks) {
    seg(grid, [p.xEnd, y, p.zLow], [p.xEnd, y, p.zHigh]);
    seg(grid, [p.xStart, y, p.zLow], [p.xEnd, y, p.zLow]);
    seg(axes, [p.xStart, y, p.zLow], [p.xStart, y, zBelow]);
  }
  seg(grid, [p.xStart, p.yBack, p.zLow], [p.xEnd, p.yBack, p.zLow]);
  seg(grid, [p.xEnd, p.yBack, p.zLow], [p.xEnd, p.yFront, p.zLow]);
  seg(axes, [p.xStart, p.yBack, p.zLow], [p.xStart, p.yBack, p.zHigh]);
  seg(axes, [p.xStart, p.yBack, p.zLow], [p.xStart, p.yFront, p.zLow]);
  seg(axes, [p.xStart, p.yFront, p.zLow], [p.xEnd, p.yFront, p.zLow]);
  return { grid, axes };
}

// tick labels of the slanted axes, the caption and the boxed legend
const panelText = {
  id: 'panelText',
  afterDraw(chart, args, opts) {
    const p = opts.panel;
    const ctx = chart.ctx;
    const sx = chart.scales.x, sy = chart.scales.y;
    ctx.save();
    ctx.fillStyle = '#222';
    ctx.font = '48px ' + FONT;
    ctx.textBaseline = 'middle';
    ctx.textAlign = 'right';
    for (const z of p.zTicks) {
      ctx.fillText(String(z), p.axisLeft - p.labelPad, sy.getPixelForValue(z) + p.labelLift);
    }
    for (const y of p.yTicks) {
      const t = project(p, p.xStart, y, p.zLow);
      ctx.fillText(String(y), sx.getPixelForValue(t.x) - 3, sy.getPixelForValue(t.y) + 71);
    }
    ctx.textAlign = 'left';
    for (const x of p.xTicks) {
      const t = project(p, x, p.yFront, p.zLow);
      ctx.fillText(String(x), sx.getPixelForValue(t.x), sy.getPixelForValue(t.y) + 71);
    }
    ctx.fillStyle = '#111';
    ctx.font = '88px ' + FONT;
    ctx.textAlign = 'center';
    ctx.fillText(p.caption, p.captionX, 1224);

    const l = p.legend;
    ctx.fillStyle = '#fff';
    ctx.fillRect(l.left, l.top, l.right - l.left, l.bottom - l.top);
    ctx.strokeStyle = '#595959';
    ctx.lineWidth = 3.5;
    ctx.strokeRect(l.left, l.top, l.right - l.left, l.bottom - l.top);
    ctx.lineWidth = 2.4;
    ctx.strokeStyle = BLUE;
    Chart.helpers.drawPoint(ctx, { pointStyle: 'triangle', radius: 19, rotation: 0, borderWidth: 2.4 }, l.markX, l.rows[0]);
    ctx.stroke();
    ctx.lineWidth = 2.2;
    ctx.strokeStyle = RED;
    Chart.helpers.drawPoint(ctx, { pointStyle: 'circle', radius: 15, rotation: 0, borderWidth: 2.2 }, l.markX, l.rows[1]);
    ctx.stroke();
    ctx.fillStyle = '#000';
    ctx.font = '50px ' + FONT;
    ctx.textAlign = 'left';
    seriesNames.forEach((name, i) => ctx.fillText(name, l.textX, l.textRows[i]));
    ctx.restore();
  }
};

function toPoints(rows) {
  return rows.map(r => ({ x: r[0], y: r[1] }));
}

function drawPanel(p, positive, negative) {
  const frame = frameLines(p);
  new Chart(document.getElementById(p.canvas), {
    type: 'scatter',
    plugins: [panelText],
    data: {
      datasets: [
        { label: seriesNames[1], data: toPoints(negative), pointStyle: 'circle', pointRadius: 15, pointBorderWidth: 2.2, pointBorderColor: RED, pointBackgroundColor: 'transparent', clip: false },
        { label: seriesNames[0], data: toPoints(positive), pointStyle: 'triangle', pointRadius: 19, pointBorderWidth: 2.4, pointBorderColor: BLUE, pointBackgroundColor: 'transparent', clip: false },
        { label: 'axes', data: frame.axes, showLine: true, pointRadius: 0, borderColor: p.axisColor, borderWidth: p.axisWidth, clip: false },
        { label: 'grid', data: frame.grid, showLine: true, pointRadius: 0, borderColor: '#e3e3e3', borderWidth: 2.4, clip: false }
      ]
    },
    options: {
      responsive: false,
      animation: false,
      events: [],
      layout: { autoPadding: false, padding: { top: 0, right: p.paddingRight, bottom: 199, left: p.axisLeft } },
      plugins: { legend: { display: false }, tooltip: { enabled: false }, panelText: { panel: p } },
      scales: {
        x: { type: 'linear', display: false, min: p.scaleX.min, max: p.scaleX.max, reverse: p.scaleX.reverse },
        y: { type: 'linear', display: false, min: p.scaleY.min, max: p.scaleY.max }
      }
    }
  });
}

drawPanel(panelA, positiveA, negativeA);
drawPanel(panelB, positiveB, negativeB);
</script>
</body>
</html>
